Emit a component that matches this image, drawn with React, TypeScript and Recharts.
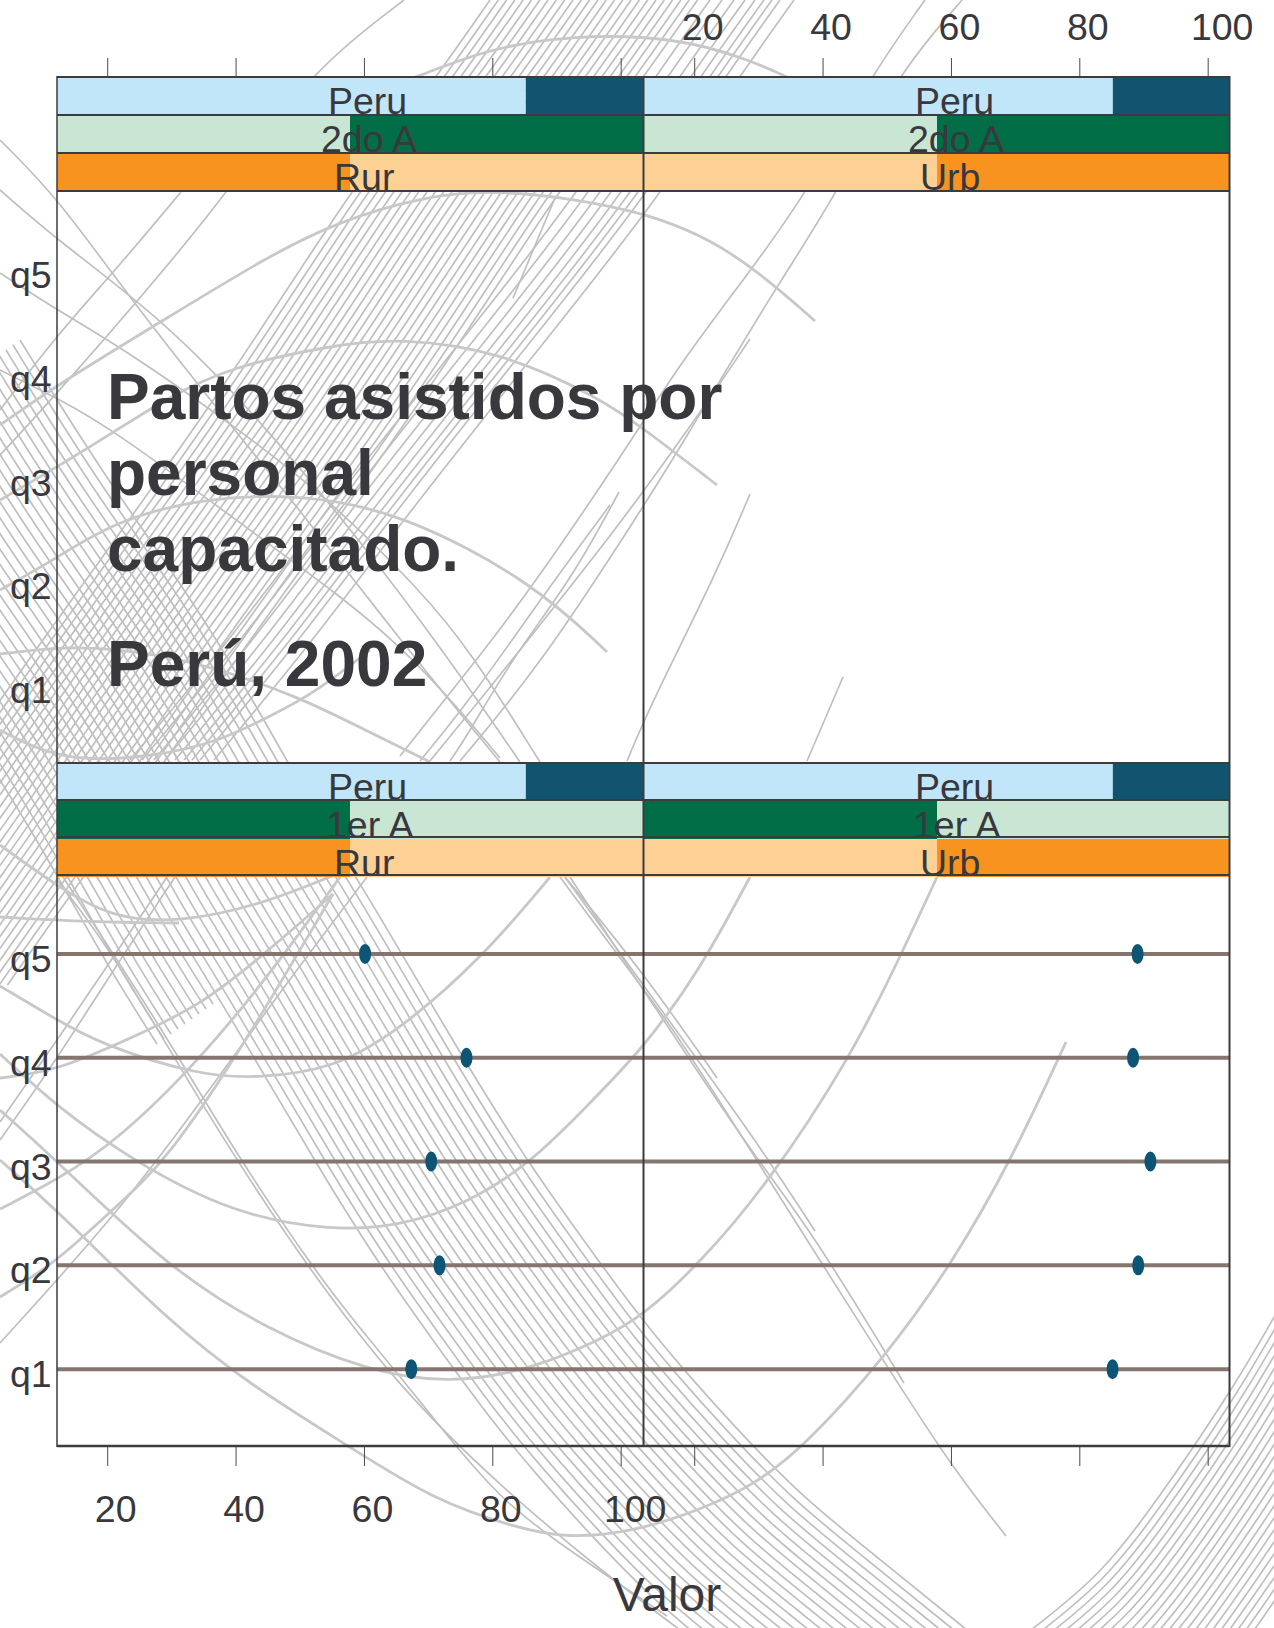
import React from "react";
import {
  BarChart, Bar, Cell, LabelList, LineChart, Line, ScatterChart, Scatter,
  XAxis, YAxis, ReferenceLine,
} from "recharts";

// ---- chart values
const quintiles = ["q1", "q2", "q3", "q4", "q5"];
const rowPositions = [1, 2, 3, 4, 5];
const axisTicks = [20, 40, 60, 80, 100];
const valorDomain: [number, number] = [12.1, 103.4];
const rowDomain: [number, number] = [0.26, 5.76];
const ruralPrimero = [67.3, 71.7, 70.4, 75.9, 60.1];
const urbanoPrimero = [85.1, 89.1, 91, 88.3, 89];

// ---- strip (conditioning) shares and labels
const stripShares = [[0.8, 0.2], [0.5, 0.5], [0.5, 0.5]];
const labelsTopRur = ["Peru", "2do A", "Rur"];
const labelsTopUrb = ["Peru", "2do A", "Urb"];
const labelsBotRur = ["Peru", "1er A", "Rur"];
const labelsBotUrb = ["Peru", "1er A", "Urb"];
const labelShift: Record<string, number> = { Peru: -22, "2do A": -29, "1er A": -24, Rur: -16, Urb: -17 };

const BLUE_L = "#c1e6fa", BLUE_D = "#12546f", GREEN_L = "#c9e5d3", GREEN_D = "#026e47", OR_L = "#fdd194", OR_D = "#f7931e";
const colorsTopRur = [[BLUE_L, BLUE_D], [GREEN_L, GREEN_D], [OR_D, OR_L]];
const colorsTopUrb = [[BLUE_L, BLUE_D], [GREEN_L, GREEN_D], [OR_L, OR_D]];
const colorsBotRur = [[BLUE_L, BLUE_D], [GREEN_D, GREEN_L], [OR_D, OR_L]];
const colorsBotUrb = [[BLUE_L, BLUE_D], [GREEN_D, GREEN_L], [OR_L, OR_D]];

const titleLines = ["Partos asistidos por", "personal", "capacitado."];
const titleYear = "Perú, 2002";
const xLabel = "Valor";

// ---- background line art in page pixels
type P = [number, number];
const famA: P[] = [[20,340],[100,470],[200,610],[270,730],[320,820],[367,894],[472,1074],[533,1170],[600,1263],[643,1321],[683,1369],[733,1425],[800,1495],[867,1549],[967,1630]];
const famASteps = [0,1,2,3,4,5,6,7,8,9,10,11,12,13,14,15,16,17,18,19,20,21];
const famAShort: P[] = [[20,340],[100,470],[200,610],[270,730],[320,820],[367,894]];
const famAShortSteps = [22,23,24,25,26,27,28,29,30];
const famB: P[] = [[490,0],[420,100],[350,191],[223,390],[57,620],[0,700],[-200,985]];
const famBSteps = [0,1,2,3,4,5,6,7,8,9,10,11,12,13,14,15,16,17,18,19,20,21,22,23,24,25];
const famC: P[] = [[780,0],[725,77],[643,199],[560,305],[400,505],[300,640],[200,760]];
const famCOffsets = [14,0,-8,-16,-25,-35,-46,-58,-70];
const famR: P[] = [[1031,1630],[1101,1575],[1154,1505],[1227,1398],[1274,1318],[1300,1270]];
const famRSteps = [0,1,2,3,4,5,6,7,8,9,10,11,12,13,14,15,16,17,18,19,20,21,22,23];

const thinLines: P[][] = [
  [[513,298],[555,198]],
  [[962,0],[895,77],[838,193],[772,293],[680,448],[643,507],[540,666],[460,761]],
  [[925,0],[870,77],[807,193],[750,271],[677,368],[643,423],[533,587],[467,672],[400,756]],
  [[750,339],[700,413],[643,492],[613,532],[560,600],[480,700],[430,761]],
  [[619,492],[573,577],[513,657],[467,736],[450,761]],
  [[610,505],[540,600],[470,700],[420,761]],
  [[750,494],[717,572],[650,706],[627,761]],
  [[843,677],[807,761]],
  [[565,877],[643,972],[717,1078]],
  [[565,877],[643,985],[754,1137],[815,1231]],
  [[570,877],[643,990],[700,1075],[754,1155],[814,1235],[904,1383]],
  [[560,877],[643,989],[667,1020],[733,1122],[800,1229],[883,1360],[951,1466],[1006,1536]],
  [[0,140],[57,197],[126,293],[210,400],[300,510],[400,640],[500,762]],
  [[0,190],[57,240],[164,320],[260,420],[360,540],[450,660],[520,762]],
  [[0,273],[57,310],[126,350],[240,430],[330,500],[420,590],[470,650],[540,762]],
  [[0,370],[57,398],[113,429],[267,543],[400,639],[500,758]],
  [[181,192],[120,265],[57,335],[0,410]],
  [[404,0],[303,77],[233,191],[57,394],[0,455]],
  [[0,1343],[117,1214],[200,1103],[277,996],[367,877]],
  [[0,1122],[57,1040],[100,977],[167,877]],
  [[0,1140],[57,1059],[110,975],[175,877]],
  [[57,880],[113,952],[200,1103],[300,1258],[400,1389],[500,1486],[600,1570],[680,1630]],
  [[63,877],[160,1025],[240,1161],[333,1297],[387,1360],[433,1418],[500,1500],[567,1549],[667,1616]],
];

const thickLines: P[][] = [
  [[380,90],[417,77],[484,50],[568,35],[677,37],[750,60],[787,77]],
  [[0,425],[57,385],[167,318],[267,257],[337,222],[421,197],[500,188],[643,209],[733,249],[815,321]],
  [[0,500],[57,467],[117,430],[167,398],[230,367],[333,345],[400,338],[500,351],[600,398],[643,428],[717,485]],
  [[0,590],[57,558],[113,522],[200,498],[300,494],[400,512],[533,582],[607,652]],
  [[0,654],[57,647],[113,648],[200,662],[300,697],[367,731],[430,762]],
  [[0,730],[60,762],[156,757],[223,740],[268,717],[312,695],[370,650]],
  [[0,845],[58,887],[112,918],[179,923],[268,903],[353,867]],
  [[0,917],[89,922],[179,923]],
  [[0,1078],[57,1071],[133,1037],[200,1006],[267,952],[333,894]],
  [[0,986],[57,1020],[100,1044],[200,1076],[260,1078],[333,1069],[400,1030],[483,957],[550,877]],
  [[0,1054],[57,1107],[133,1161],[233,1214],[333,1231],[400,1226],[467,1204],[533,1161],[583,1110],[643,1049],[700,970],[750,877]],
  [[0,1110],[57,1161],[167,1267],[267,1330],[367,1371],[450,1384],[533,1369],[600,1340],[643,1316],[700,1263],[767,1185],[851,1057],[901,955],[937,877]],
  [[0,1160],[57,1210],[167,1320],[250,1385],[350,1447],[433,1500],[520,1529],[567,1538],[633,1532],[700,1510],[754,1485],[804,1447],[887,1355],[951,1265],[1011,1161],[1066,1042]],
  [[0,1209],[57,1180],[117,1141],[200,1060],[277,965],[340,877]],
  [[0,1297],[57,1262],[113,1209],[167,1161],[247,1040],[333,894]],
];

const shifted = (pts: P[], dx: number, dy: number) => pts.map(([x, y]) => ({ x: x + dx, y: y + dy }));
const artThin = [
  ...famASteps.map((k) => shifted(famA, -7 * k, 5 * k)),
  ...famAShortSteps.map((k) => shifted(famAShort, -7 * k, 5 * k)),
  ...famBSteps.map((k) => shifted(famB, 8.3 * k, 0)),
  ...famCOffsets.map((o) => shifted(famC, o, 0)),
  ...famRSteps.map((k) => shifted(famR, 4 * k, 6 * k)),
  ...thinLines.map((l) => shifted(l, 0, 0)),
];
const artThick = thickLines.map((l) => shifted(l, 0, 0));

// ---- layout
const INK = "#38383d";
const FONT = "'Liberation Sans', Arial, sans-serif";
const LEFT = 57, MID = 643.5, RIGHT = 1229.5;
const PW = 586;
const FS = 37.5;

function Background() {
  const line = (d: { x: number; y: number }[], i: number, w: number, name: string, c: string) => (
    <Line key={name + i} data={d} dataKey="y" type="basis" stroke={c} strokeWidth={w} dot={false} activeDot={false} isAnimationActive={false} legendType="none" />
  );
  return (
    <div style={{ position: "absolute", left: 0, top: 0 }}>
      <LineChart width={1274} height={1628} margin={{ top: 0, right: 0, bottom: 0, left: 0 }}>
        <XAxis hide type="number" dataKey="x" domain={[0, 1274]} allowDataOverflow />
        <YAxis hide type="number" domain={[0, 1628]} reversed allowDataOverflow />
        {artThin.map((d, i) => line(d, i, 1.7, "t", "#bfbfbf"))}
        {artThick.map((d, i) => line(d, i, 2.8, "k", "#c8c8c8"))}
      </LineChart>
    </div>
  );
}

const tickOffset = (s: string) => s.length * 6 - 4;

function Strip({ left, top, plotLeft, labels, colors, axis, showLabels }: any) {
  const data = labels.map((name: string, i: number) => ({ name, a: stripShares[i][0], b: stripShares[i][1] }));
  const axisH = axis ? 77 : 0;
  const width = plotLeft + PW;
  const renderLabel = (p: any) => {
    const row = p.index as number;
    const name = labels[row];
    return (
      <text x={plotLeft + PW / 2 + labelShift[name]} y={axisH + 38 * row + 37} fontFamily={FONT} fontSize={FS} fill={INK}>{name}</text>
    );
  };
  const renderTick = (p: any) => {
    if (!showLabels) return <g />;
    const s = String(p.payload.value);
    return <text x={p.x + tickOffset(s)} y={40} textAnchor="middle" fontFamily={FONT} fontSize={FS} fill={INK}>{s}</text>;
  };
  return (
    <div style={{ position: "absolute", left, top }}>
      <BarChart layout="vertical" width={width} height={axisH + 114} data={data} barCategoryGap={0} margin={{ top: 0, right: 0, bottom: 0, left: plotLeft }}>
        <XAxis xAxisId="share" type="number" domain={[0, 1]} hide />
        {axis && (
          <XAxis xAxisId="valor" orientation="top" type="number" domain={valorDomain} ticks={axisTicks} interval={0} height={77}
            axisLine={false} tickSize={19} tickLine={{ stroke: "#4a4a4f", strokeWidth: 1 }} tick={renderTick} allowDataOverflow />
        )}
        <YAxis type="category" dataKey="name" hide />
        <Bar xAxisId="share" dataKey="a" stackId="s" isAnimationActive={false}>
          {colors.map((c: string[], i: number) => <Cell key={i} fill={c[0]} />)}
        </Bar>
        <Bar xAxisId="share" dataKey="b" stackId="s" isAnimationActive={false}>
          {colors.map((c: string[], i: number) => <Cell key={i} fill={c[1]} />)}
          <LabelList dataKey="name" content={renderLabel} />
        </Bar>
      </BarChart>
    </div>
  );
}

function Panel({ left, top, plotLeft, values, yLabels, bottomAxis, xLabels }: any) {
  const data = values ? values.map((x: number, i: number) => ({ x, y: rowPositions[i] })) : [];
  const axisH = bottomAxis ? 100 : 0;
  const renderX = (p: any) => {
    if (!xLabels) return <g />;
    const s = String(p.payload.value);
    return <text x={p.x + tickOffset(s)} y={647} textAnchor="middle" fontFamily={FONT} fontSize={FS} fill={INK}>{s}</text>;
  };
  const renderY = (p: any) => (
    <text x={10} y={p.y + 18} fontFamily={FONT} fontSize={FS} fill={INK}>{quintiles[p.payload.value - 1]}</text>
  );
  const dot = (p: any) => <ellipse cx={p.cx} cy={p.cy} rx={6} ry={10} fill="#0e5474" />;
  return (
    <div style={{ position: "absolute", left, top }}>
      <ScatterChart width={plotLeft + PW} height={571 + axisH} margin={{ top: 0, right: 0, bottom: 0, left: 0 }}>
        {bottomAxis ? (
          <XAxis type="number" dataKey="x" domain={valorDomain} ticks={axisTicks} interval={0} height={100} axisLine={false}
            tickSize={20} tickLine={{ stroke: "#4a4a4f", strokeWidth: 1 }} tick={renderX} allowDataOverflow />
        ) : (
          <XAxis type="number" dataKey="x" domain={valorDomain} hide allowDataOverflow />
        )}
        {yLabels ? (
          <YAxis type="number" dataKey="y" domain={rowDomain} ticks={rowPositions} interval={0} width={plotLeft} axisLine={false} tickLine={false} tick={renderY} allowDataOverflow />
        ) : (
          <YAxis type="number" dataKey="y" domain={rowDomain} hide allowDataOverflow />
        )}
        {values && rowPositions.map((r) => <ReferenceLine key={r} y={r} stroke="#84766f" strokeWidth={4} />)}
        {values && <Scatter data={data} shape={dot} isAnimationActive={false} />}
      </ScatterChart>
    </div>
  );
}

function Overlay() {
  const hs = [77, 115, 153, 191, 763, 800, 837, 875];
  return (
    <svg width={1274} height={1628} style={{ position: "absolute", left: 0, top: 0, pointerEvents: "none" }}>
      {hs.map((y) => <line key={y} x1={LEFT} x2={RIGHT} y1={y} y2={y} stroke="#3b3b40" strokeWidth={2} />)}
      <line x1={LEFT} x2={LEFT} y1={76} y2={1447} stroke="#3b3b40" strokeWidth={1.5} />
      <line x1={MID} x2={MID} y1={76} y2={1447} stroke="#3b3b40" strokeWidth={2} />
      <line x1={RIGHT} x2={RIGHT} y1={76} y2={1447} stroke="#3b3b40" strokeWidth={2} />
      <line x1={LEFT} x2={RIGHT} y1={1446} y2={1446} stroke="#3b3b40" strokeWidth={2.5} />
      <g fontFamily={FONT} fontWeight={700} fontSize={64} fill={INK}>
        {titleLines.map((t, i) => <text key={t} x={107} y={418.5 + 76 * i}>{t}</text>)}
        <text x={107} y={685.5}>{titleYear}</text>
      </g>
      <text x={667} y={1611} textAnchor="middle" fontFamily={FONT} fontSize={48} fill={INK}>{xLabel}</text>
    </svg>
  );
}

export default function App() {
  return (
    <div style={{ position: "absolute", left: 0, top: 0, width: 1274, height: 1628, overflow: "hidden", background: "#fff" }}>
      <style>{`svg { overflow: visible; }`}</style>
      <Background />
      <Panel left={0} top={191} plotLeft={LEFT} yLabels />
      <Panel left={MID} top={191} plotLeft={0} />
      <Panel left={0} top={875} plotLeft={LEFT} values={ruralPrimero} yLabels bottomAxis xLabels />
      <Panel left={MID} top={875} plotLeft={0} values={urbanoPrimero} bottomAxis />
      <Strip left={0} top={0} plotLeft={LEFT} labels={labelsTopRur} colors={colorsTopRur} axis />
      <Strip left={MID} top={0} plotLeft={0} labels={labelsTopUrb} colors={colorsTopUrb} axis showLabels />
      <Strip left={0} top={763} plotLeft={LEFT} labels={labelsBotRur} colors={colorsBotRur} />
      <Strip left={MID} top={763} plotLeft={0} labels={labelsBotUrb} colors={colorsBotUrb} />
      <Overlay />
    </div>
  );
}
